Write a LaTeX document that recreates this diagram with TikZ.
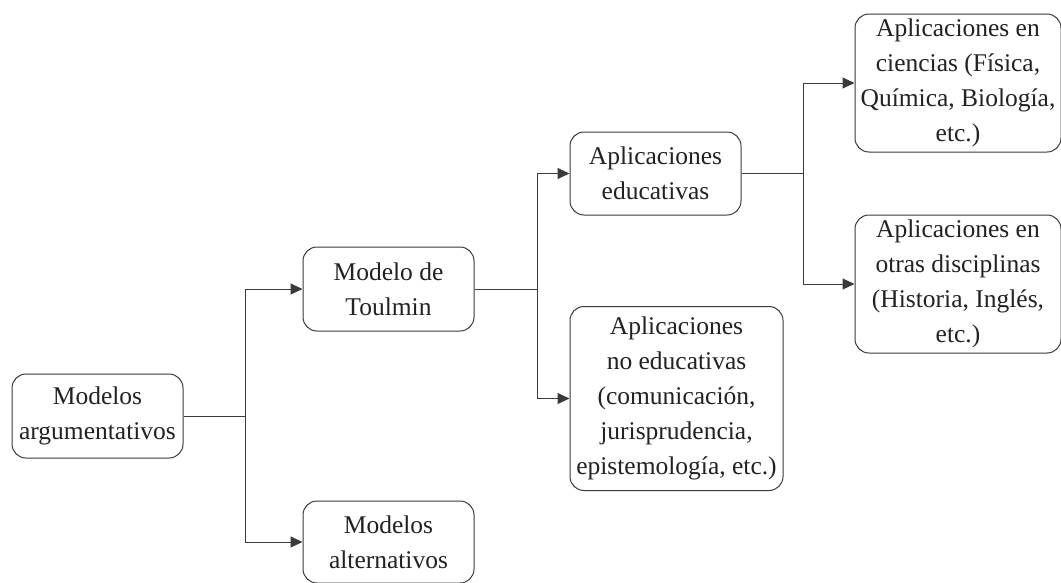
\documentclass[tikz,border=0pt]{standalone}
\usepackage{fontspec}
\setmainfont{Liberation Serif}
\usetikzlibrary{arrows.meta}
\definecolor{linegray}{HTML}{3A3A3A}
\definecolor{textgray}{HTML}{222222}
\tikzset{
  box/.style={draw=linegray, line width=1pt, rounded corners=14pt, align=center,
    inner sep=0pt, text=textgray, font=\fontsize{25.5}{35}\selectfont},
  conn/.style={draw=linegray, line width=1pt},
  arr/.style={conn, -{Triangle[length=12pt,width=11pt]}}
}
\begin{document}
\begin{tikzpicture}[x=1pt,y=-1pt]
\fill[white] (0,0) rectangle (1061,582);
\useasboundingbox (0,0) rectangle (1061,582);
\node[box, minimum width=171pt, minimum height=84pt] (arg) at (97.5,416) {Modelos\\argumentativos};
\node[box, minimum width=171pt, minimum height=84pt] (toul) at (388.5,289) {Modelo de\\Toulmin};
\node[box, minimum width=171pt, minimum height=82pt] (alt) at (388.5,542) {Modelos\\alternativos};
\node[box, minimum width=171pt, minimum height=83pt] (edu) at (655.5,173.5) {Aplicaciones\\educativas};
\node[box, minimum width=213pt, minimum height=184pt] (noedu) at (676.5,398.5) {Aplicaciones\\no educativas\\(comunicación,\\jurisprudencia,\\epistemología, etc.)};
\node[box, minimum width=206pt, minimum height=138pt] (cien) at (958,83) {Aplicaciones en\\ciencias (Física,\\Química, Biología,\\etc.)};
\node[box, minimum width=206pt, minimum height=138pt] (otras) at (958,284) {Aplicaciones en\\otras disciplinas\\(Historia, Inglés,\\etc.)};
\coordinate (j1) at (245,416);
\coordinate (j2) at (537.5,289);
\coordinate (j3) at (803.5,173.5);
\draw[conn] (arg.east) -- (j1);
\draw[arr] (j1) |- (toul.west);
\draw[arr] (j1) |- (alt.west);
\draw[conn] (toul.east) -- (j2);
\draw[arr] (j2) |- (edu.west);
\draw[arr] (j2) |- (noedu.west);
\draw[conn] (edu.east) -- (j3);
\draw[arr] (j3) |- (cien.west);
\draw[arr] (j3) |- (otras.west);
\end{tikzpicture}
\end{document}
